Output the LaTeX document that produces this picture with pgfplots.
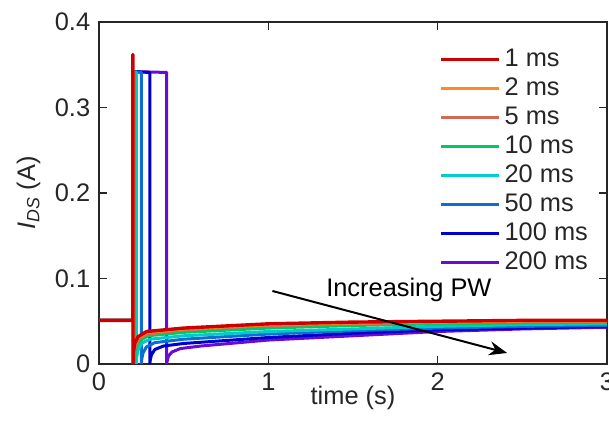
\documentclass[border=0pt]{standalone}
\usepackage{fontspec}
\setmainfont{Liberation Sans}
\usepackage{pgfplots}
\pgfplotsset{compat=1.18}
\usetikzlibrary{arrows.meta}
\definecolor{axgray}{HTML}{262626}
\definecolor{c1}{HTML}{CC0000}
\definecolor{c2}{HTML}{FF8A1E}
\definecolor{c5}{HTML}{D46A55}
\definecolor{c10}{HTML}{00C864}
\definecolor{c20}{HTML}{00CCCC}
\definecolor{c50}{HTML}{0A6ED2}
\definecolor{c100}{HTML}{0000CC}
\definecolor{c200}{HTML}{6A0AD6}
\begin{document}
\fontsize{12.7}{15}\selectfont
\begin{tikzpicture}
\begin{axis}[
  scale only axis, width=254pt, height=171pt,
  xmin=0, xmax=3, ymin=0, ymax=0.4,
  xtick={0,1,2,3}, ytick={0,0.1,0.2,0.3,0.4},
  tick align=inside, tick pos=both,
  major tick length=4pt,
  axis line style={axgray, line width=0.75pt},
  tick style={axgray, line width=0.75pt},
  ticklabel style={font=\fontsize{12.7}{15}\selectfont, text=axgray},
  /pgf/number format/assume math mode=true,
  yticklabel style={/pgf/number format/.cd, fixed, precision=1},
  xlabel={time (s)}, ylabel={\textit{I}\textsubscript{\textit{DS}} (A)},
  label style={font=\fontsize{12.7}{15}\selectfont, text=axgray},
  xlabel style={yshift=11pt},
  ylabel style={yshift=-1.5pt},
  reverse legend,
  legend style={at={(0.975,0.945)}, anchor=north east, draw=none, fill=none,
    font=\fontsize{12.7}{15}\selectfont, row sep=-0.25pt, text=axgray,
    inner xsep=1pt},
  legend cell align=left,
  legend image code/.code={\draw[#1, line width=1.5pt] (0pt,0pt) -- (29pt,0pt);},
  every axis plot/.append style={line width=1.5pt, line join=round},
]
% 200 ms
\addplot[c200] coordinates {(0,0.051)(0.2,0.051)(0.2,0.342)(0.4,0.341)(0.4,0)(0.403,0.004)(0.41,0.009)(0.43,0.014)(0.48,0.018)(0.6,0.021)(1,0.028)(1.5,0.033)(2,0.038)(2.5,0.041)(3,0.043)};
% 100 ms
\addplot[c100] coordinates {(0,0.051)(0.2,0.051)(0.2,0.342)(0.3,0.341)(0.3,0)(0.303,0.005)(0.31,0.011)(0.33,0.017)(0.38,0.021)(0.5,0.024)(1,0.031)(1.5,0.036)(2,0.040)(2.5,0.042)(3,0.044)};
% 50 ms
\addplot[c50] coordinates {(0,0.051)(0.2,0.051)(0.2,0.342)(0.25,0.341)(0.25,0)(0.253,0.006)(0.26,0.013)(0.28,0.020)(0.33,0.025)(0.5,0.029)(1,0.035)(1.5,0.039)(2,0.042)(2.5,0.044)(3,0.045)};
% 20 ms
\addplot[c20] coordinates {(0,0.051)(0.2,0.051)(0.2,0.342)(0.22,0.341)(0.22,0)(0.223,0.008)(0.23,0.016)(0.25,0.024)(0.3,0.029)(0.5,0.033)(1,0.038)(1.5,0.041)(2,0.044)(2.5,0.046)(3,0.047)};
% 10 ms
\addplot[c10] coordinates {(0,0.051)(0.2,0.051)(0.2,0.342)(0.21,0.341)(0.21,0)(0.213,0.010)(0.22,0.019)(0.24,0.027)(0.29,0.033)(0.5,0.037)(1,0.042)(1.5,0.045)(2,0.047)(2.5,0.048)(3,0.049)};
% 5 ms
\addplot[c5] coordinates {(0,0.051)(0.2,0.051)(0.2,0.342)(0.205,0.341)(0.205,0)(0.208,0.012)(0.215,0.021)(0.235,0.029)(0.285,0.035)(0.5,0.040)(1,0.045)(1.5,0.047)(2,0.049)(2.5,0.050)(3,0.050)};
% 2 ms
\addplot[c2] coordinates {(0,0.051)(0.2,0.051)(0.2,0.342)(0.202,0.341)(0.202,0)(0.205,0.013)(0.212,0.023)(0.232,0.031)(0.282,0.037)(0.5,0.041)(1,0.046)(1.5,0.048)(2,0.049)(2.5,0.050)(3,0.050)};
% 1 ms
\addplot[c1, line width=1.7pt] coordinates {(0,0.051)(0.2,0.051)(0.2,0.362)(0.201,0.362)(0.201,0)(0.204,0.014)(0.211,0.024)(0.231,0.032)(0.281,0.038)(0.5,0.042)(1,0.047)(1.5,0.049)(2,0.050)(2.5,0.051)(3,0.051)};
\legend{200 ms,100 ms,50 ms,20 ms,10 ms,5 ms,2 ms,1 ms}
\draw[-{Stealth[length=9pt,width=7pt]}, line width=1pt, black] (axis cs:1.024,0.0854) -- (axis cs:2.41,0.0129);
\node[text=black, font=\fontsize{12.7}{15}\selectfont] at (axis cs:1.83,0.087) {Increasing PW};
\end{axis}
\pgfresetboundingbox
\path ([shift={(-49.5pt,-31pt)}]current axis.south west) rectangle ([shift={(1pt,11pt)}]current axis.north east);
\end{tikzpicture}
\end{document}
